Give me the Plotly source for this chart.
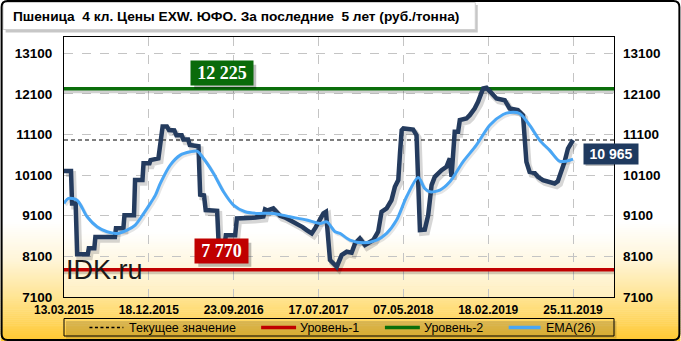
import plotly.graph_objects as go

# ---------------- data ----------------
tick_idx = [0, 40, 80, 120, 160, 200, 240]
tick_labels = ["13.03.2015", "18.12.2015", "23.09.2016", "17.07.2017",
               "07.05.2018", "18.02.2019", "25.11.2019"]
y_ticks = [7100, 8100, 9100, 10100, 11100, 12100, 13100]
y_tick_labels = ["7100", "8100", "9100", "10100", "11100", "12100", "13100"]

price_idx = [0, 3.3, 3.8, 5.5, 6.2, 11.2, 11.7, 14.3, 14.8, 24.0, 24.5, 28.0, 28.5, 33.0,
             33.5, 37.0, 37.5, 40.3, 40.8, 44.5, 46.5, 48.5, 49.5, 52.0, 53.0, 55.5, 56.3,
             58.5, 59.3, 63.4, 64.2, 66.0, 66.8, 72.2, 72.9, 74.0, 75.5, 76.3, 80.7, 81.5,
             89.0, 94.0, 94.8, 96.0, 98.7, 100.0, 101.9, 104.0, 106.6, 108.5, 110.5, 112.5,
             114.4, 116.8, 118.5, 119.9, 122.3, 123.5, 125.4, 128.6, 130.9, 133.3, 135.6,
             137.2, 139.5, 141.9, 145.8, 148.1, 149.7, 152.1, 154.4, 156.0, 157.6, 158.4,
             159.2, 160.0, 163.1, 164.6, 166.2, 167.8, 170.1, 171.7, 173.3, 174.8, 178.0,
             180.3, 181.9, 182.7, 184.2, 185.8, 186.6, 189.7, 191.3, 193.6, 195.2, 197.6,
             199.2, 201.5, 203.9, 207.8, 210.1, 214.0, 216.4, 218.0, 219.5, 221.9, 223.4,
             225.8, 228.9, 231.3, 232.8, 234.4, 236.0, 237.6, 240.0]
price_val = [10200, 10200, 9400, 9400, 8150, 8150, 8300, 8300, 8580, 8580, 8790, 8790, 9110, 9110,
             9980, 9980, 10390, 10390, 10470, 10510, 11300, 11300, 11210, 11200, 11080, 11080, 10980,
             10980, 10840, 10810, 9620, 9600, 9240, 9220, 8420, 8250, 8300, 8620, 8620, 9035,
             9050, 9080, 9256, 9230, 9281, 9200, 9100, 9060, 8994, 8950, 8871, 8820,
             8748, 8666, 8800, 8953, 9158, 9198, 8010, 7845, 8133, 8214, 8190,
             8420, 8543, 8379, 8502, 8706, 9198, 9281, 9485, 9812, 9977, 10633,
             11207, 11250, 11230, 11220, 11084, 8748, 8760, 9116, 9854, 10058, 10223,
             10304, 10510, 10058, 11166, 11166, 11453, 11494, 11576, 11740, 11904, 12232,
             12250, 12109, 11986, 11945, 11740, 11699, 11576, 10427, 10181, 10150, 10058,
             9977, 9936, 9895, 9950, 10181, 10427, 10755, 10965]

ema_idx = [0, 2.1, 6.2, 10.9, 15.6, 20.3, 25.0, 29.7, 33.6, 37.6, 40.7, 43.1, 45.4, 50.1,
           54.8, 59.5, 62.7, 65.8, 70.5, 75.2, 79.9, 85.4, 90.9, 98.7, 106.6, 114.4, 120.7,
           123.9, 127.8, 130.1, 134.8, 141.1, 147.4, 152.1, 156.8, 161.5, 167.0, 170.1,
           172.5, 177.2, 181.9, 188.1, 194.4, 200.7, 207.0, 210.1, 214.8, 219.5, 224.2,
           228.9, 233.6, 236.8, 240.0]
ema_val = [9404, 9527, 9480, 9075, 8829, 8706, 8666, 8748, 8871, 9158, 9404, 9608, 9895, 10346,
           10592, 10674, 10690, 10510, 10141, 9690, 9362, 9198, 9158, 9158, 9075, 8994, 8912,
           8950, 8706, 8666, 8502, 8436, 8502, 8666, 8994, 9567, 10043, 9772,
           9690, 9731, 9936, 10427, 10838, 11330, 11592, 11642, 11617, 11330, 10961,
           10715, 10444, 10444, 10494]

current_value = 10965
level_1 = 7770
level_2 = 12225
x_span = [0, 259.3]

title_text = "Пшеница\u00a0\u00a04 кл. Цены EXW. ЮФО. За последние\u00a0\u00a05 лет (руб./тонна)"
legend_names = ["Текущее значение", "Уровень-1", "Уровень-2", "EMA(26)"]

# ---------------- layout geometry ----------------
W, H = 681, 341
ML, MR, MT, MB = 63.5, 66.5, 37, 44
PW = W - ML - MR
PH = H - MT - MB


def px(x):
    return (x - ML) / PW


def py(y):
    return (H - MB - y) / PH


def hex2rgb(h):
    h = h.lstrip('#')
    return [int(h[i:i + 2], 16) for i in (0, 2, 4)]


def grad_color(stops, y):
    for (y0, c0), (y1, c1) in zip(stops[:-1], stops[1:]):
        if y0 <= y <= y1:
            t = (y - y0) / (y1 - y0)
            a, b = hex2rgb(c0), hex2rgb(c1)
            return "rgb(%d,%d,%d)" % tuple(round(a[i] + (b[i] - a[i]) * t) for i in range(3))
    return stops[-1][1]


shapes = []
# paper gradient
paper_stops = [(222, "#FFFFFF"), (260, "#FFF5D8"), (300, "#FFE38E"), (341, "#FFC830")]
n = 60
ys, ye = 222, 341
for i in range(n):
    y0 = ys + (ye - ys) * i / n
    y1 = ys + (ye - ys) * (i + 1) / n
    shapes.append(dict(type="rect", xref="paper", yref="paper", x0=px(0), x1=px(W),
                       y0=py(y1 + 0.6), y1=py(y0), fillcolor=grad_color(paper_stops, (y0 + y1) / 2),
                       line_width=0, layer="below"))
# plot-area gradient
plot_stops = [(232, "#FFFFFF"), (297, "#FFEFC0")]
n = 30
ys, ye = 232, 297
shapes.append(dict(type="rect", xref="paper", yref="paper", x0=0, x1=1, y0=py(232), y1=1,
                   fillcolor="#FFFFFF", line_width=0, layer="below"))
for i in range(n):
    y0 = ys + (ye - ys) * i / n
    y1 = ys + (ye - ys) * (i + 1) / n
    shapes.append(dict(type="rect", xref="paper", yref="paper", x0=0, x1=1,
                       y0=py(min(y1 + 0.6, 297)), y1=py(y0), fillcolor=grad_color(plot_stops, (y0 + y1) / 2),
                       line_width=0, layer="below"))

# title box with shadow
shapes.append(dict(type="rect", xref="paper", yref="paper", x0=px(5), x1=px(478), y0=py(32.5), y1=py(5),
                   fillcolor="rgba(0,0,0,0.22)", line_width=0, layer="below"))
shapes.append(dict(type="rect", xref="paper", yref="paper", x0=px(2.5), x1=px(475.5), y0=py(29.5), y1=py(2.5),
                   fillcolor="#FFFFFF", line=dict(color="#D0D0D0", width=1), layer="below"))

# legend box with shadow
shapes.append(dict(type="rect", xref="paper", yref="paper", x0=px(65.5), x1=px(617), y0=py(338.5), y1=py(321),
                   fillcolor="rgba(0,0,0,0.15)", line_width=0, layer="below"))
shapes.append(dict(type="rect", xref="paper", yref="paper", x0=px(63.5), x1=px(614.5), y0=py(336), y1=py(318.5),
                   fillcolor="rgba(0,0,0,0)", line=dict(color="black", width=1), layer="below"))

ly = 327.5
legend_lines = [
    (89, 123, "black", 1.3, "3px,2.5px"),
    (261, 296, "#C00000", 3.5, "solid"),
    (385, 420, "#0A6E0A", 3.5, "solid"),
    (509, 541, "#49A6F5", 3.5, "solid"),
]
for x0, x1, c, w, d in legend_lines:
    shapes.append(dict(type="line", xref="paper", yref="paper", x0=px(x0), x1=px(x1), y0=py(ly), y1=py(ly),
                       line=dict(color=c, width=w, dash=d), layer="above"))

# outer frame
r = 6
X0, Y0, X1, Y1 = 1, 1, 680, 340
path = (f"M {px(X0 + r)},{py(Y0)} L {px(X1 - r)},{py(Y0)} Q {px(X1)},{py(Y0)} {px(X1)},{py(Y0 + r)} "
        f"L {px(X1)},{py(Y1 - r)} Q {px(X1)},{py(Y1)} {px(X1 - r)},{py(Y1)} "
        f"L {px(X0 + r)},{py(Y1)} Q {px(X0)},{py(Y1)} {px(X0)},{py(Y1 - r)} "
        f"L {px(X0)},{py(Y0 + r)} Q {px(X0)},{py(Y0)} {px(X0 + r)},{py(Y0)} Z")
shapes.append(dict(type="path", xref="paper", yref="paper", path=path,
                   line=dict(color="black", width=2), fillcolor="rgba(0,0,0,0)", layer="above"))

# ---------------- traces ----------------
fig = go.Figure()

# level shadows
for lv in (level_2, level_1):
    fig.add_trace(go.Scatter(x=x_span, y=[lv - 75, lv - 75], mode="lines",
                             line=dict(color="rgba(0,0,0,0.18)", width=3), hoverinfo="skip", showlegend=False))
fig.add_trace(go.Scatter(x=x_span, y=[level_2, level_2], mode="lines", name=legend_names[2],
                         line=dict(color="#0A6E0A", width=3.5), showlegend=False))
fig.add_trace(go.Scatter(x=x_span, y=[level_1, level_1], mode="lines", name=legend_names[1],
                         line=dict(color="#C00000", width=3.5), showlegend=False))
fig.add_trace(go.Scatter(x=x_span, y=[current_value, current_value], mode="lines", name=legend_names[0],
                         line=dict(color="black", width=1.2, dash="4px,3px"), showlegend=False))

# price shadow + price
fig.add_trace(go.Scatter(x=[v + 1.0 for v in price_idx], y=[v - 70 for v in price_val], mode="lines",
                         line=dict(color="rgba(0,0,0,0.16)", width=6), hoverinfo="skip", showlegend=False))
fig.add_trace(go.Scatter(x=price_idx, y=price_val, mode="lines", name="Цена",
                         line=dict(color="#243B5E", width=4.5, shape="linear"), showlegend=False))
# EMA
fig.add_trace(go.Scatter(x=[v + 0.8 for v in ema_idx], y=[v - 50 for v in ema_val], mode="lines",
                         line=dict(color="rgba(0,0,0,0.10)", width=3, shape="spline", smoothing=0.8),
                         hoverinfo="skip", showlegend=False))
fig.add_trace(go.Scatter(x=ema_idx, y=ema_val, mode="lines", name=legend_names[3],
                         line=dict(color="#49A6F5", width=3, shape="spline", smoothing=0.8), showlegend=False))
# right axis companion
fig.add_trace(go.Scatter(x=[0], y=[y_ticks[0]], yaxis="y2", mode="markers", marker=dict(opacity=0),
                         hoverinfo="skip", showlegend=False))

# ---------------- annotations ----------------
ann = []
ann.append(dict(xref="paper", yref="paper", x=px(10), y=py(16.5), xanchor="left", yanchor="middle",
                text=title_text, showarrow=False,
                font=dict(family="Liberation Sans", size=13.7, color="black", weight="bold")))
ann.append(dict(xref="paper", yref="paper", x=px(64), y=py(270), xanchor="left", yanchor="middle",
                text="IDK.ru", showarrow=False,
                font=dict(family="Liberation Sans", size=27, color="#1A1A1A")))


def label(x, y, text, bg, xanchor, yanchor, xshift, yshift, w, h, family, size):
    # box shadow drawn as a pixel-sized shape anchored at the label's data position
    bw, bh = w + 2, h + 2
    if xanchor == "center":
        lx0 = xshift - bw / 2
    else:
        lx0 = xshift
    if yanchor == "bottom":
        ly0 = yshift
    else:
        ly0 = yshift - bh
    shapes.append(dict(type="rect", xref="x", yref="y", xsizemode="pixel", ysizemode="pixel",
                       xanchor=x, yanchor=y, x0=lx0 + 3, x1=lx0 + bw + 3, y0=ly0 - 3, y1=ly0 + bh - 3,
                       fillcolor="rgba(0,0,0,0.25)", line_width=0, layer="above"))
    ann.append(dict(x=x, y=y, xref="x", yref="y", text=text, showarrow=False, xanchor=xanchor, yanchor=yanchor,
                    xshift=xshift, yshift=yshift, width=w, height=h, borderpad=1,
                    bgcolor=bg, font=dict(family=family, size=size, color="white", weight="bold")))


label(74.6, level_2, "12 225", "#0A6B0A", "center", "bottom", 0, 3, 60, 22, "Liberation Serif", 18)
label(74.4, level_1, "7 770", "#C00000", "center", "bottom", 0, 6, 51, 22, "Liberation Serif", 18)
label(240, current_value, "10 965", "#1F3A5F", "left", "top", 9.5, -3, 52, 18, "Liberation Sans", 14)

legend_text_x = [127, 298, 422, 544]
for tx, name in zip(legend_text_x, legend_names):
    ann.append(dict(xref="paper", yref="paper", x=px(tx), y=py(ly), xanchor="left", yanchor="middle",
                    text=name, showarrow=False,
                    font=dict(family="Liberation Sans", size=12.5, color="black")))

# ---------------- layout ----------------
yaxis_common = dict(range=[7100, 13500], tickvals=y_ticks, ticktext=y_tick_labels, ticks="", zeroline=False,
                    tickfont=dict(family="Liberation Sans", size=13.5, color="black", weight="bold"),
                    ticklabelstandoff=8)
fig.update_layout(
    width=W, height=H,
    margin=dict(l=ML, r=MR, t=MT, b=MB, pad=0),
    paper_bgcolor="white",
    plot_bgcolor="rgba(0,0,0,0)",
    showlegend=False,
    xaxis=dict(range=x_span, tickvals=tick_idx, ticktext=tick_labels, ticks="",
               showgrid=True, gridcolor="#C4C4C4", griddash="dash", gridwidth=1,
               showline=True, linecolor="black", linewidth=1, mirror=True, zeroline=False,
               tickfont=dict(family="Liberation Sans", size=12, color="black", weight="bold"),
               ticklabelstandoff=2),
    yaxis=dict(**yaxis_common, side="left", showgrid=True, gridcolor="#C4C4C4", griddash="dash",
               gridwidth=1, showline=True, linecolor="black", linewidth=1, mirror=True),
    yaxis2=dict(**yaxis_common, side="right", overlaying="y", showgrid=False, showline=False),
    shapes=shapes,
    annotations=ann,
)

fig.write_html("out.html")
